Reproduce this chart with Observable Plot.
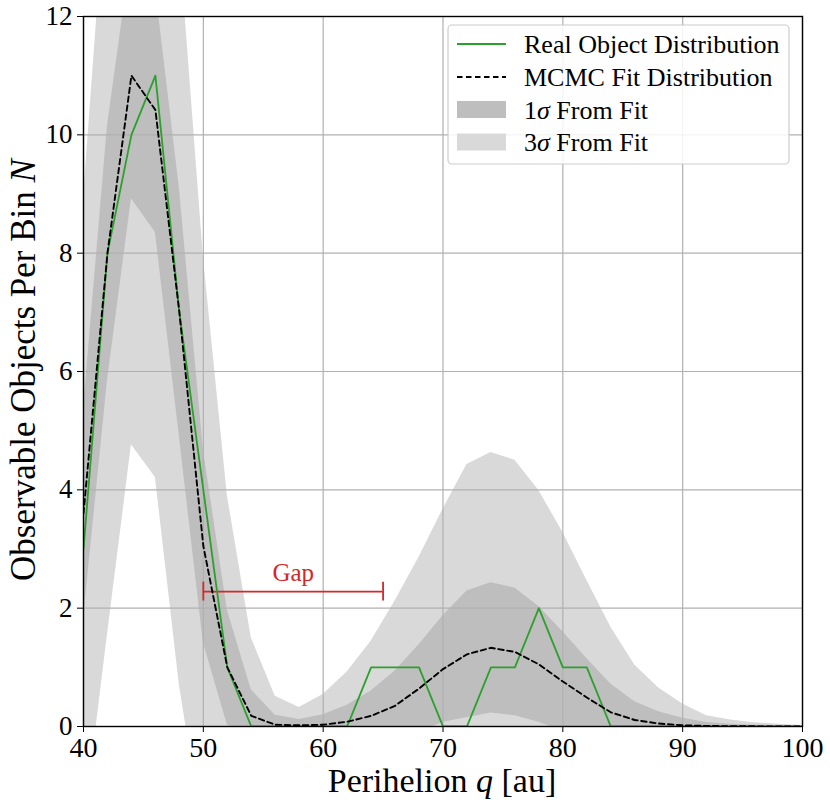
<!DOCTYPE html>
<html><head><meta charset="utf-8">
<script src="https://cdn.jsdelivr.net/npm/d3@7"></script>
<script src="https://cdn.jsdelivr.net/npm/@observablehq/plot@0.6"></script>
<style>body{margin:0;background:#fff}</style>
</head><body><div id="chart"></div>
<script>
// Bin centres (perihelion q, au)
const perihelion = [40,42,44,46,48,50,52,54,56,58,60,62,64,66,68,70,72,74,76,78,80,82,84,86,88,90,92,94,96,98,100];
// Real object counts per bin
const realCounts = [3,8,10,11,7,4,1,0,0,0,0,0,1,1,1,0,0,1,1,2,1,1,0,0,0,0,0,0,0,0,0];
// MCMC fit mean per bin
const fitMean = [3.6,8.0,11.0,10.42,7.0,3.05,1.0,0.18,0.03,0.02,0.03,0.08,0.18,0.35,0.64,0.97,1.22,1.33,1.26,1.05,0.76,0.49,0.24,0.11,0.05,0.02,0.01,0.005,0.003,0.002,0.001];
// MCMC fit 1-sigma spread per bin
const fitSigma = [1.78,2.15,2.08,2.07,2.1,1.63,0.97,0.44,0.16,0.10,0.17,0.28,0.42,0.59,0.74,0.90,1.07,1.10,1.08,0.98,0.84,0.66,0.48,0.31,0.20,0.12,0.057,0.035,0.02,0.012,0.006];
const xTicks = [40,50,60,70,80,90,100];
const yTicks = [0,2,4,6,8,10,12];
const gapRange = [50, 65];
const gapY = 2.28;
const legendLabels = ["Real Object Distribution", "MCMC Fit Distribution", "1σ From Fit", "3σ From Fit"];

const rows = perihelion.map((q, i) => ({
  q, real: realCounts[i], mean: fitMean[i],
  lo1: fitMean[i] - fitSigma[i], hi1: fitMean[i] + fitSigma[i],
  lo3: fitMean[i] - 3 * fitSigma[i], hi3: fitMean[i] + 3 * fitSigma[i]
}));

const C = {green: "#2ca02c", red: "#d62728", s1: "#bebebe", s3: "#d9d9d9", grid: "#b0b0b0"};
const FONT = "'Liberation Serif', 'DejaVu Serif', serif";

const svg = Plot.plot({
  width: 830, height: 809,
  marginLeft: 83, marginRight: 28, marginTop: 16, marginBottom: 83,
  style: {fontFamily: FONT, background: "#fff", color: "black"},
  x: {domain: [40, 100]},
  y: {domain: [0, 12]},
  marks: [
    Plot.areaY(rows, {x: "q", y1: "lo3", y2: "hi3", fill: C.s3, clip: true}),
    Plot.areaY(rows, {x: "q", y1: "lo1", y2: "hi1", fill: C.s1, clip: true}),
    Plot.gridX(xTicks, {stroke: C.grid, strokeOpacity: 1, strokeWidth: 1.2}),
    Plot.gridY(yTicks, {stroke: C.grid, strokeOpacity: 1, strokeWidth: 1.2}),
    Plot.ruleY([{x1: gapRange[0], x2: gapRange[1], y: gapY}], {x1: "x1", x2: "x2", y: "y", stroke: C.red, strokeWidth: 1.8}),
    Plot.ruleX(gapRange, {x: d => d, y1: gapY - 0.16, y2: gapY + 0.16, stroke: C.red, strokeWidth: 1.8}),
    Plot.text(["Gap"], {x: (gapRange[0] + gapRange[1]) / 2, y: 2.6, text: d => d, fill: C.red, fontSize: 25, lineAnchor: "middle"}),
    Plot.line(rows, {x: "q", y: "real", stroke: C.green, strokeWidth: 1.8, clip: true}),
    Plot.line(rows, {x: "q", y: "mean", stroke: "black", strokeWidth: 1.9, strokeDasharray: "5.5,3.5", clip: true}),
    Plot.frame({stroke: "black", strokeWidth: 1.4}),
    Plot.axisX(xTicks, {tickSize: 6, tickPadding: 5, fontSize: 28, label: null, tickFormat: d => String(d)}),
    Plot.axisY(yTicks, {tickSize: 6, tickPadding: 5, fontSize: 27, label: null, tickFormat: d => String(d)})
  ]
});
document.getElementById("chart").appendChild(svg);

const s = d3.select(svg);
// Axis titles
const xl = s.append("text").attr("x", 442).attr("y", 792).attr("text-anchor", "middle")
  .attr("font-size", 34).attr("font-family", FONT).attr("fill", "black");
xl.append("tspan").text("Perihelion ");
xl.append("tspan").attr("font-style", "italic").text("q");
xl.append("tspan").text(" [au]");

const yl = s.append("text").attr("transform", "translate(35,370) rotate(-90)").attr("text-anchor", "middle")
  .attr("font-size", 35).attr("font-family", FONT).attr("fill", "black");
yl.append("tspan").text("Observable Objects Per Bin ");
yl.append("tspan").attr("font-style", "italic").text("N");

// Legend
const lg = s.append("g").attr("font-family", FONT).attr("font-size", 26).attr("text-anchor", "start");
lg.append("rect").attr("x", 448).attr("y", 25).attr("width", 341).attr("height", 139).attr("rx", 4)
  .attr("fill", "white").attr("fill-opacity", 0.85).attr("stroke", "#cccccc").attr("stroke-width", 1.2);
const rowY = [44, 77, 109.5, 142];
lg.append("line").attr("x1", 457).attr("x2", 506).attr("y1", rowY[0]).attr("y2", rowY[0]).attr("stroke", C.green).attr("stroke-width", 1.8);
lg.append("line").attr("x1", 457).attr("x2", 506).attr("y1", rowY[1]).attr("y2", rowY[1]).attr("stroke", "black").attr("stroke-width", 1.9).attr("stroke-dasharray", "5.5,3.5");
lg.append("rect").attr("x", 457).attr("y", rowY[2] - 8.5).attr("width", 49).attr("height", 17).attr("fill", C.s1);
lg.append("rect").attr("x", 457).attr("y", rowY[3] - 8.5).attr("width", 49).attr("height", 17).attr("fill", C.s3);
legendLabels.forEach((lab, i) => {
  const t = lg.append("text").attr("x", 524).attr("y", rowY[i]).attr("dy", "0.35em").attr("fill", "black").attr("text-anchor", "start");
  const k = lab.indexOf("σ");
  if (k >= 0) {
    t.append("tspan").text(lab.slice(0, k));
    t.append("tspan").attr("font-style", "italic").text("σ");
    t.append("tspan").text(lab.slice(k + 1));
  } else t.text(lab);
});
</script></body></html>
